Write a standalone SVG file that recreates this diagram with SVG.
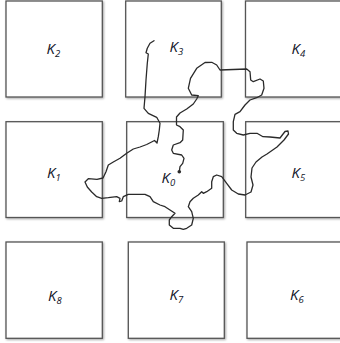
<svg xmlns="http://www.w3.org/2000/svg" width="340" height="343" viewBox="0 0 340 343">
<defs>
<filter id="sh" x="-5%" y="-5%" width="115%" height="115%">
<feDropShadow dx="1" dy="1" stdDeviation="0.8" flood-color="#000" flood-opacity="0.35"/>
</filter>
</defs>
<style>
.box{fill:#fff;stroke:#555;stroke-width:1.3;filter:url(#sh)}
.lbl{font-family:"Open Sans","Liberation Sans",sans-serif;font-style:italic;font-size:15px;fill:#111428}
.sub{font-size:9.5px}
.walk{fill:none;stroke:#2a2a2a;stroke-width:1.3;stroke-linejoin:round;stroke-linecap:round}
</style>
<rect width="340" height="343" fill="#fff"/>
<g id="K2"><rect class="box" x="6" y="1" width="96.3" height="96"/><text class="lbl" x="46.5" y="54">K<tspan class="sub" dy="3">2</tspan></text></g>
<g id="K3"><rect class="box" x="125.7" y="1" width="95.6" height="96"/><text class="lbl" x="169.5" y="52">K<tspan class="sub" dy="3">3</tspan></text></g>
<g id="K4"><rect class="box" x="245.5" y="1" width="97" height="96"/><text class="lbl" x="291.5" y="53.5">K<tspan class="sub" dy="3">4</tspan></text></g>
<g id="K1"><rect class="box" x="6" y="121.7" width="96.3" height="95.8"/><text class="lbl" x="47" y="178">K<tspan class="sub" dy="3">1</tspan></text></g>
<g id="K0"><rect class="box" x="126.7" y="121.7" width="96.6" height="95.8"/><text class="lbl" x="161.5" y="183.3">K<tspan class="sub" dy="3">0</tspan></text></g>
<g id="K5"><rect class="box" x="245.7" y="121.7" width="97" height="95.8"/><text class="lbl" x="291.5" y="178.3">K<tspan class="sub" dy="3">5</tspan></text></g>
<g id="K8"><rect class="box" x="6" y="242" width="96.3" height="96.3"/><text class="lbl" x="48" y="300.5">K<tspan class="sub" dy="3">8</tspan></text></g>
<g id="K7"><rect class="box" x="128.3" y="242" width="96" height="96.3"/><text class="lbl" x="169.5" y="300">K<tspan class="sub" dy="3">7</tspan></text></g>
<g id="K6"><rect class="box" x="247" y="242" width="96" height="96.3"/><text class="lbl" x="290" y="300">K<tspan class="sub" dy="3">6</tspan></text></g>
<g id="connectors">
<polyline class="walk" points="154,40.7 150,43.3 147.3,48.3 146,52.7 148.3,54 147.3,63.3 146,80 145,96.7 144,108.3 148.3,113.3 156.7,117.3 160,123.3 159.3,130 158.3,136.7 157,143 154.5,140.5 146.7,144.5 140,147 133.3,149 126.7,153.3 120,158.3 113.3,162 108.3,165 106,171.7 103,178 97,179.3 88.3,178.7 85,182 87.3,187 91.7,192 96.7,196.7 101.7,198.3 108.3,197.7 116.7,196.7 120,198.3 119.3,201.7 121.7,201 123.3,196.7 128.3,194.3 136.7,194.3 145,194.3 150,196.7 153.3,201.7 160,205 165,206.7 170,210 175,213.3 171.7,216.7 169.3,220 169.3,225 173.3,228.3 180,228.3 183.3,229.3 186.7,228.3 191.7,225 193.3,218.3 191.7,211.7 188.3,206.7 190,201.7 193.3,198.3 198.3,195 201.7,191.7 203.3,193.3 206.7,191.7 211.7,188.3 211.7,181.7 213.3,176.7 216.7,175 221.7,176.7 226.7,183.3 231.7,190 238.3,194 245,195 251,192 253,185 251,177 252,168 256,162 262,157 267,154 277,147 284,140 288.5,134 288,131 285,131.5 280,138 270,137 263,136.7 257,133.3 250,133.3 243.3,135 236.7,133.3 233.3,130 233.3,121.7 235,114.3 240,111.7 245,105 250,100 256.7,97.7 261.7,95 264,88.3 263.3,81 260,79 253.3,81.7 250.7,80 250,71.7 246.7,69 220,70 216.7,65 211.7,62.3 205,62.5 196.7,68.3 190.5,78.3 188.3,88.3 191.7,95 198.3,95.7 196.7,99 193.3,104 186.7,109 180,113 176.5,117 176.5,125 180,126.7 183.3,130 182.7,140 180,142.7 173.3,145 171.7,150 173.3,153.3 181.7,155 184,158.3 182.7,163.3 180,166.7 179.3,171.7"/>
<circle cx="179.3" cy="171.7" r="1.8" fill="#2a2a2a"/>
</g>
</svg>
